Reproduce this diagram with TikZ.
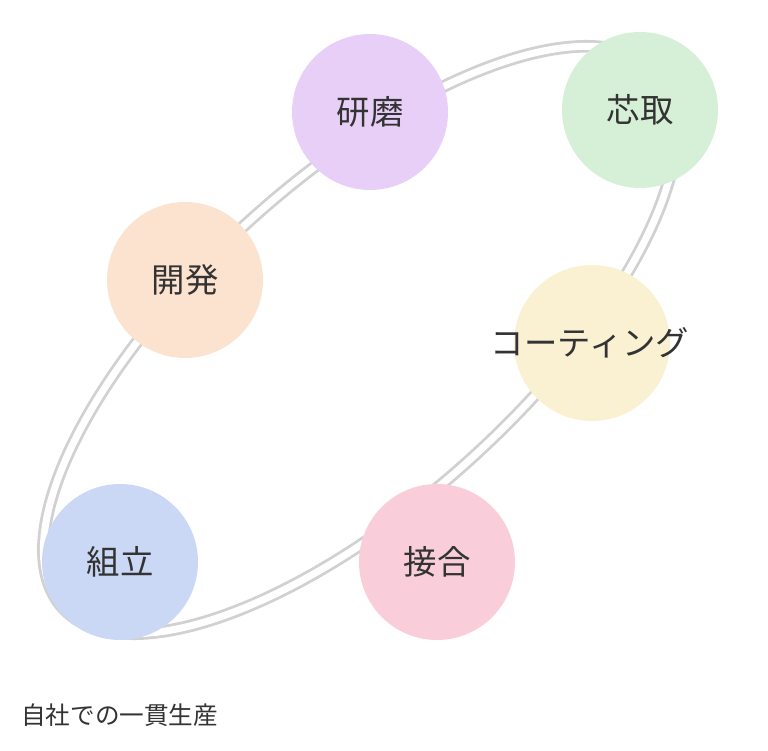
\documentclass[tikz,border=0pt]{standalone}
\usepackage{fontspec}
\newfontfamily\jp{Noto Sans CJK JP}
\usetikzlibrary{positioning}
\definecolor{kenma}{HTML}{E8CFF7}
\definecolor{shintori}{HTML}{D6F0D8}
\definecolor{kaihatsu}{HTML}{FCE3CF}
\definecolor{coating}{HTML}{FAF0D2}
\definecolor{kumitate}{HTML}{CBD8F5}
\definecolor{setsugo}{HTML}{F9CEDA}
\tikzset{
  step circle/.style={circle,minimum size=3.12cm,inner sep=0pt,font=\jp\fontsize{19}{19}\selectfont,text=black!80},
  ring/.style={draw=black!18,line width=1.6pt,double=white,double distance=4pt}
}
\begin{document}
\begin{tikzpicture}
\useasboundingbox (0,0) rectangle (15.36,-15.02);
% ring behind the steps
\draw[ring,rotate around={42:(7.2,-6.8)}] (7.2,-6.8) ellipse (8.0cm and 3.25cm);
% process steps
\node[step circle,fill=kenma] (kenma) at (7.4,-2.24) {研磨};
\node[step circle,fill=shintori] (shintori) at (12.8,-2.2) {芯取};
\node[step circle,fill=kaihatsu] (kaihatsu) at (3.7,-5.6) {開発};
\node[step circle,fill=coating] (coating) at (11.84,-6.86) {};
\node[font=\jp\fontsize{19}{19}\selectfont,text=black!80] (coatlabel) at (11.8,-6.86) {コーティング};
\node[step circle,fill=kumitate] (kumitate) at (2.4,-11.24) {組立};
\node[step circle,fill=setsugo] (setsugo) at (8.74,-11.24) {接合};
\node[font=\jp\fontsize{14}{14}\selectfont,text=black!80,anchor=west] (caption) at (0.3,-14.3) {自社での一貫生産};
\end{tikzpicture}
\end{document}
